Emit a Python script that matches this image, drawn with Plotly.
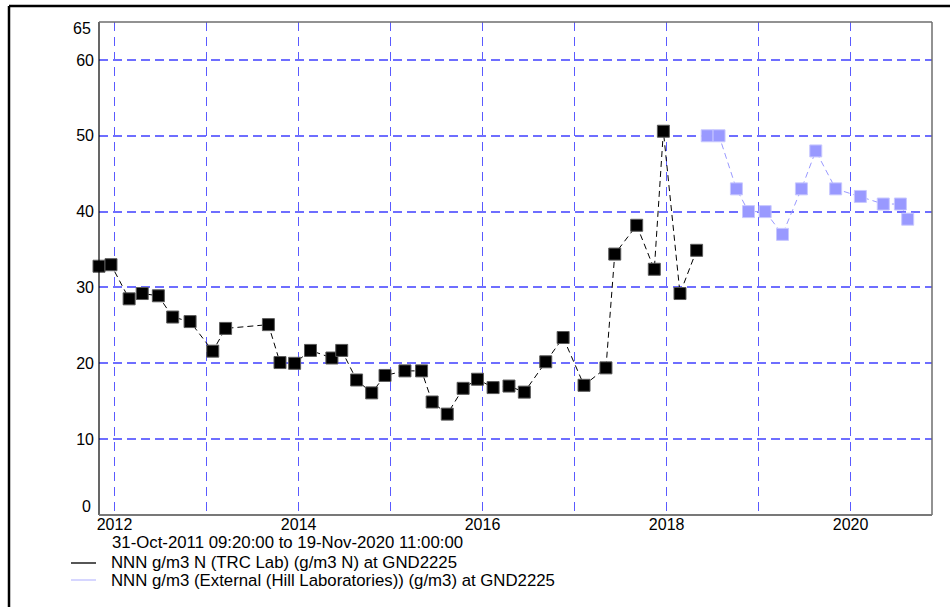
import plotly.graph_objects as go

# Nitrate-nitrogen samples at GND2225
trc_dates = [
    "2011-10-31 09:20", "2011-12-18", "2012-02-28", "2012-04-20", "2012-06-23", "2012-08-19", "2012-10-27",
    "2013-01-25", "2013-03-17", "2013-09-03", "2013-10-19", "2013-12-16",
    "2014-02-17", "2014-05-13", "2014-06-21", "2014-08-19", "2014-10-18", "2014-12-10",
    "2015-02-27", "2015-05-04", "2015-06-15", "2015-08-14", "2015-10-16", "2015-12-12",
    "2016-02-12", "2016-04-15", "2016-06-15", "2016-09-08", "2016-11-16",
    "2017-02-07", "2017-05-05", "2017-06-09", "2017-09-04", "2017-11-13", "2017-12-19",
    "2018-02-23", "2018-04-30",
]
trc_values = [
    32.8, 33.0, 28.5, 29.2, 28.9, 26.1, 25.5,
    21.6, 24.6, 25.1, 20.1, 20.0,
    21.7, 20.7, 21.7, 17.8, 16.1, 18.4,
    19.0, 19.0, 14.9, 13.3, 16.7, 17.9,
    16.8, 17.0, 16.2, 20.2, 23.4,
    17.1, 19.4, 34.4, 38.2, 32.4, 50.6,
    29.2, 34.9,
]

hill_dates = [
    "2018-06-11", "2018-07-28", "2018-10-05", "2018-11-22", "2019-01-27", "2019-04-06",
    "2019-06-20", "2019-08-16", "2019-11-03", "2020-02-09", "2020-05-10", "2020-07-17", "2020-08-15",
]
hill_values = [50, 50, 43, 40, 40, 37, 43, 48, 43, 42, 41, 41, 39]

trc_name = "NNN g/m3 N (TRC Lab) (g/m3 N) at GND2225"
hill_name = "NNN g/m3 (External (Hill Laboratories)) (g/m3) at GND2225"
range_text = "31-Oct-2011 09:20:00 to 19-Nov-2020 11:00:00"

x_range = ["2011-10-31 09:20", "2020-11-19 11:00"]
y_range = [0, 65]
year_ticks = [f"{y}-01-01" for y in range(2012, 2021)]
year_labels = [str(y) if y % 2 == 0 else "" for y in range(2012, 2021)]
y_ticks = [10, 20, 30, 40, 50, 60]

W, H = 950, 607
L, R, T, B = 99, 18, 22, 92
PW, PH = W - L - R, H - T - B

FONT = "Arial, Liberation Sans, sans-serif"
GRID_V = "rgb(90,90,255)"
GRID_H = "rgb(110,110,255)"
BLACK = "#000000"
LILAC = "rgb(153,153,255)"


def px(x):
    return (x - L) / PW


def py(y):
    return (H - B - y) / PH


fig = go.Figure()

fig.add_trace(go.Scatter(
    x=trc_dates, y=trc_values, name=trc_name, mode="lines+markers",
    line=dict(color=BLACK, width=1, dash="6px,4px"),
    marker=dict(symbol="square", size=12, color=BLACK, line=dict(color="rgb(90,90,90)", width=1)),
    cliponaxis=False,
))
fig.add_trace(go.Scatter(
    x=hill_dates, y=hill_values, name=hill_name, mode="lines+markers",
    line=dict(color=LILAC, width=1, dash="6px,4px"),
    marker=dict(symbol="square", size=12, color=LILAC, line=dict(color="rgb(200,200,255)", width=1)),
    cliponaxis=False,
))

shapes = [
    # outer frame (top and left edges fall inside the page)
    dict(type="line", xref="paper", yref="paper", x0=px(9), x1=px(W + 5), y0=py(6), y1=py(6),
         line=dict(color=BLACK, width=2.5), layer="above"),
    dict(type="line", xref="paper", yref="paper", x0=px(9), x1=px(9), y0=py(6), y1=py(H + 5),
         line=dict(color=BLACK, width=2.5), layer="above"),
    # plot box: left black, others grey
    dict(type="line", xref="paper", yref="paper", x0=0, x1=0, y0=0, y1=1,
         line=dict(color=BLACK, width=1.2), layer="above"),
    dict(type="line", xref="paper", yref="paper", x0=1, x1=1, y0=0, y1=1,
         line=dict(color="rgb(110,110,110)", width=1.5), layer="above"),
    dict(type="line", xref="paper", yref="paper", x0=0, x1=1, y0=1, y1=1,
         line=dict(color="rgb(110,110,110)", width=1.5), layer="above"),
    dict(type="line", xref="paper", yref="paper", x0=0, x1=1, y0=0, y1=0,
         line=dict(color="rgb(120,120,120)", width=2), layer="above"),
    # legend swatches
    dict(type="line", xref="paper", yref="paper", x0=px(71), x1=px(96), y0=py(563), y1=py(563),
         line=dict(color="rgb(30,30,30)", width=1.5)),
    dict(type="line", xref="paper", yref="paper", x0=px(71), x1=px(96), y0=py(580), y1=py(580),
         line=dict(color="rgb(200,200,255)", width=1.5)),
]

annotations = [
    dict(text="65", xref="paper", yref="y", x=0, y=65, xanchor="right", yanchor="middle",
         xshift=-6, yshift=-6, showarrow=False, font=dict(family=FONT, size=16, color=BLACK)),
    dict(text="0", xref="paper", yref="y", x=0, y=0, xanchor="right", yanchor="middle",
         xshift=-6, yshift=9, showarrow=False, font=dict(family=FONT, size=16, color=BLACK)),
    dict(text=range_text, xref="paper", yref="paper", x=px(110), y=py(542), xanchor="left",
         yanchor="middle", showarrow=False, font=dict(family=FONT, size=16.8, color=BLACK)),
    dict(text=trc_name, xref="paper", yref="paper", x=px(109), y=py(562), xanchor="left",
         yanchor="middle", showarrow=False, font=dict(family=FONT, size=16.8, color=BLACK)),
    dict(text=hill_name, xref="paper", yref="paper", x=px(109), y=py(580), xanchor="left",
         yanchor="middle", showarrow=False, font=dict(family=FONT, size=16.8, color=BLACK)),
]

fig.update_layout(
    width=W, height=H,
    margin=dict(l=L, r=R, t=T, b=B, pad=0),
    paper_bgcolor="white", plot_bgcolor="white",
    showlegend=False,
    font=dict(family=FONT, size=16, color=BLACK),
    shapes=shapes, annotations=annotations,
    xaxis=dict(
        type="date", range=x_range, tickmode="array", tickvals=year_ticks, ticktext=year_labels,
        showgrid=True, gridcolor=GRID_V, gridwidth=1.2, griddash="9px,6px",
        showline=False, zeroline=False, ticks="", tickfont=dict(family=FONT, size=16, color=BLACK),
        ticklabelstandoff=-2, fixedrange=True,
    ),
    yaxis=dict(
        range=y_range, tickmode="array", tickvals=y_ticks, ticktext=[str(v) for v in y_ticks],
        showgrid=True, gridcolor=GRID_H, gridwidth=1.5, griddash="9px,5px",
        showline=False, zeroline=False, ticks="", tickfont=dict(family=FONT, size=16, color=BLACK),
        ticklabelstandoff=4, fixedrange=True,
    ),
)

fig.write_html("out.html")
